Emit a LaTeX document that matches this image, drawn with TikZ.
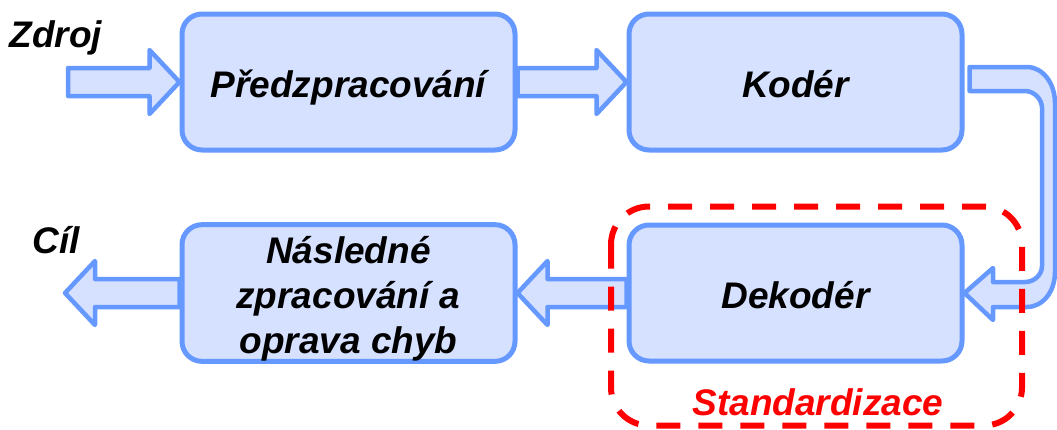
\documentclass[tikz,border=0pt]{standalone}
\usepackage{fontspec}
\setmainfont{Liberation Sans}
\usetikzlibrary{calc}

\definecolor{edgeblue}{RGB}{102,153,255}
\definecolor{fillblue}{RGB}{214,224,255}
\definecolor{stdred}{RGB}{255,0,0}

\tikzset{
  stage/.style={draw=edgeblue, fill=fillblue, line width=5pt, rounded corners=20pt,
    minimum width=333pt, minimum height=136pt, inner sep=0pt, align=center,
    font=\fontsize{37}{45}\selectfont\bfseries\itshape},
  oneline/.style={text height=30pt, text depth=0pt},
  blk/.style={draw=edgeblue, fill=fillblue, line width=4.5pt, line join=round},
  lbl/.style={font=\fontsize{37}{45}\selectfont\bfseries\itshape, inner sep=0pt},
  stdframe/.style={draw=stdred, line width=6pt, dash pattern=on 24pt off 18pt,
    rounded corners=38pt},
}

% straight block arrow from tail point #1 to tip point #2
\newcommand\blockarrow[2]{%
  \path ($(#2)!30pt!(#1)$) coordinate (ah);
  \draw[blk] ($(#1)+(0,-14)$) -- ($(ah)+(0,-14)$) -- ($(ah)+(0,-32)$) -- (#2)
    -- ($(ah)+(0,32)$) -- ($(ah)+(0,14)$) -- ($(#1)+(0,14)$) -- cycle;}

\begin{document}
\begin{tikzpicture}[x=1pt,y=-1pt]
\useasboundingbox (0,0) rectangle (1057,429);

% processing stages
\node[stage,oneline] (pre) at (348.5,82) {Předzpracování};
\node[stage,oneline] (kod) at (795.5,82) {Kodér};
\node[stage,oneline] (dek) at (795.5,293) {Dekodér};
\node[stage] (nas) at (348.5,293) {\rule{0pt}{39pt}Následné\\zpracování a\\oprava chyb};

% source and destination
\node[lbl, anchor=base] (zdroj) at (56,47) {Zdroj};
\node[lbl, anchor=base] (cil) at (56,253) {Cíl};
\coordinate (src) at (68,82);
\coordinate (dst) at (65,293);

% flow arrows
\blockarrow{src}{pre.west}
\blockarrow{pre.east}{kod.west}
\blockarrow{dek.west}{nas.east}
\blockarrow{nas.west}{dst}

% U-turn from the coder down to the decoder
\draw[blk] ($(kod.east)+(5,-15)$) -- (1027,67)
  .. controls (1042.5,67) and (1055,83) .. (1055,103) -- (1055,272)
  .. controls (1055,292) and (1042.5,307) .. (1027,307) -- (993,307) -- (993,320)
  -- (dek.east) -- (993,268) -- (993,282) -- (1025,282)
  .. controls (1034,282) and (1042,275) .. (1042,266) -- (1042,108)
  .. controls (1042,99) and (1034,91) .. (1025,91) -- ($(kod.east)+(5,9)$) -- cycle;

% standardised part
\draw[stdframe] (611,206.5) rectangle (1022,425.5);
\node[lbl, text=stdred, anchor=base] (stdl) at (818,415) {Standardizace};
\end{tikzpicture}
\end{document}
